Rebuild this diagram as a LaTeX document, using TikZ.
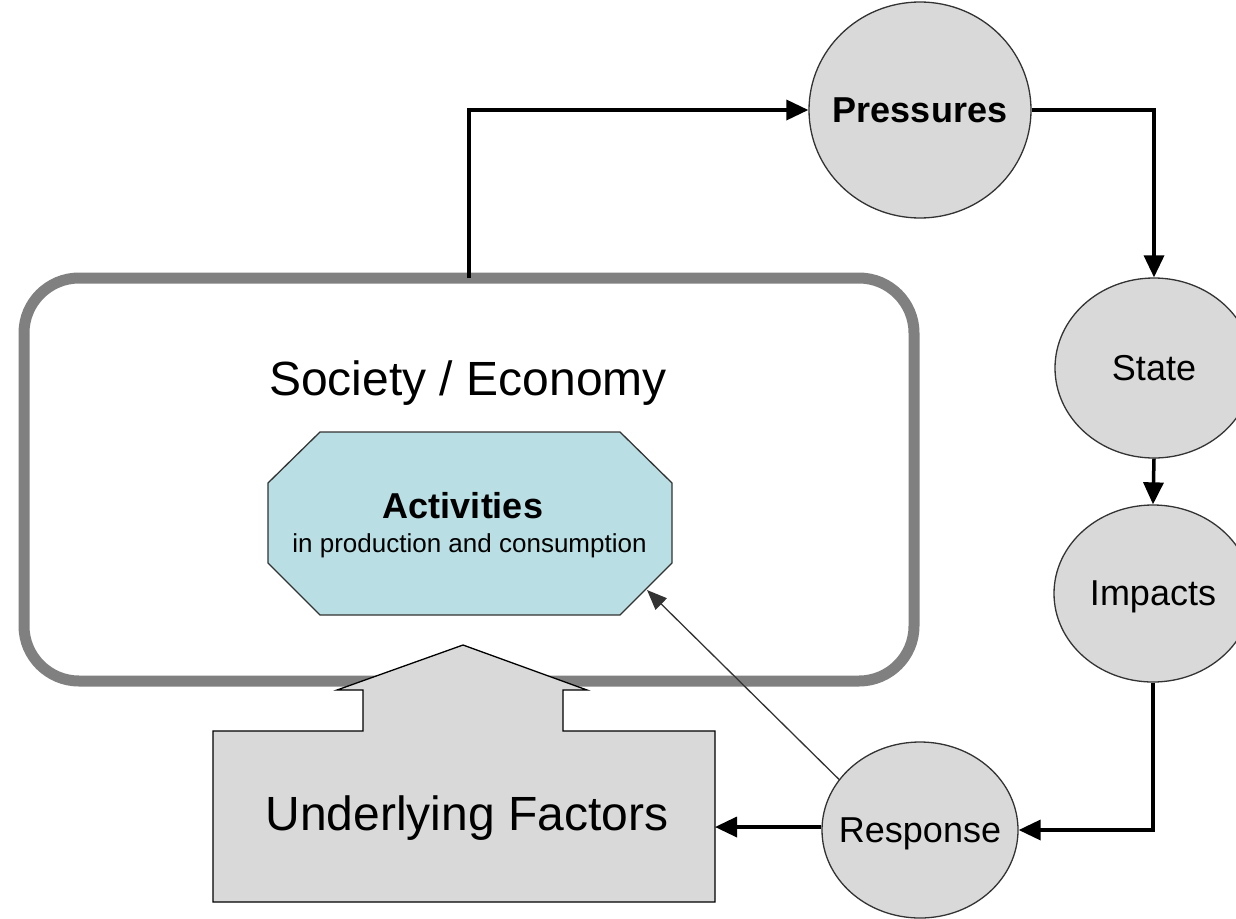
\documentclass[tikz,border=0pt]{standalone}
\usepackage{fontspec}
\setmainfont{Liberation Sans}
\usetikzlibrary{arrows.meta,shapes.geometric}
\definecolor{circfill}{HTML}{D9D9D9}
\definecolor{circline}{HTML}{333333}
\definecolor{boxgray}{HTML}{808080}
\definecolor{actfill}{HTML}{B9DEE3}
\begin{document}
\begin{tikzpicture}[x=1pt,y=-1pt,
  circ/.style={ellipse,draw=circline,line width=1.3pt,fill=circfill,inner sep=0pt},
  lbl/.style={inner sep=0pt,text depth=0pt,font=\fontsize{36}{40}\selectfont},
  conn/.style={line width=3.5pt,-{Triangle[length=22pt,width=20pt]}},
  thinconn/.style={line width=1.3pt,draw=circline,-{Triangle[length=20pt,width=16pt]}},
  socbox/.style={draw=boxgray,line width=11pt,rounded corners=55pt,inner sep=0pt,outer sep=0pt},
  bigtext/.style={font=\fontsize{48}{56}\selectfont,inner sep=0pt}
]
\clip (0,0) rectangle (1236,918);
\fill[white] (0,0) rectangle (1236,918);

% Society / Economy box
\node[socbox,minimum width=890pt,minimum height=403pt] (soc) at (469,479.5) {};
\node[bigtext,anchor=base] (soctext) at (468,395) {Society / Economy};

% Activities octagon
\draw[draw=circline,line width=1.3pt,fill=actfill]
  (320,432) -- (620,432) -- (672,483) -- (672,563) -- (620,615) -- (320,615)
  -- (268,563) -- (268,483) -- cycle;
\coordinate (actse) at (647,590);
\node[font=\fontsize{36}{40}\selectfont\bfseries,anchor=base,inner sep=0pt] (act) at (463,518) {Activities};
\node[font=\fontsize{26}{30}\selectfont,anchor=base,inner sep=0pt] (actsub) at (469.5,552) {in production and consumption};

% Underlying factors block arrow
\draw[draw=black,line width=1.3pt,fill=circfill]
  (213,731) -- (363,731) -- (363,690) -- (337,690) -- (463,645) -- (587,690)
  -- (563,690) -- (563,731) -- (715,731) -- (715,902) -- (213,902) -- cycle;
\coordinate (ufeast) at (715,827);
\node[bigtext,anchor=base] (uf) at (467,830) {Underlying Factors};

% DPSIR circles
\node[circ,minimum width=222pt,minimum height=216pt,
  label={[lbl,font=\fontsize{36}{40}\selectfont\bfseries]center:Pressures}] (pres) at (920,110) {};
\node[circ,minimum width=198pt,minimum height=180pt,
  label={[lbl]center:State}] (state) at (1154,368) {};
\node[circ,minimum width=198pt,minimum height=177pt,
  label={[lbl]center:Impacts}] (imp) at (1153,593.5) {};
\node[circ,minimum width=196pt,minimum height=176pt,
  label={[lbl]center:Response}] (resp) at (920,830) {};

% connectors
\draw[conn] (soc.north) |- (pres.west);
\draw[conn] (pres.east) -| (state.north);
\draw[conn] (state.south) -- (imp.north);
\draw[conn] (imp.south) |- (resp.east);
\draw[conn] (resp.west |- ufeast) -- (ufeast);
\draw[thinconn] (resp.148) -- (actse);
\end{tikzpicture}
\end{document}
